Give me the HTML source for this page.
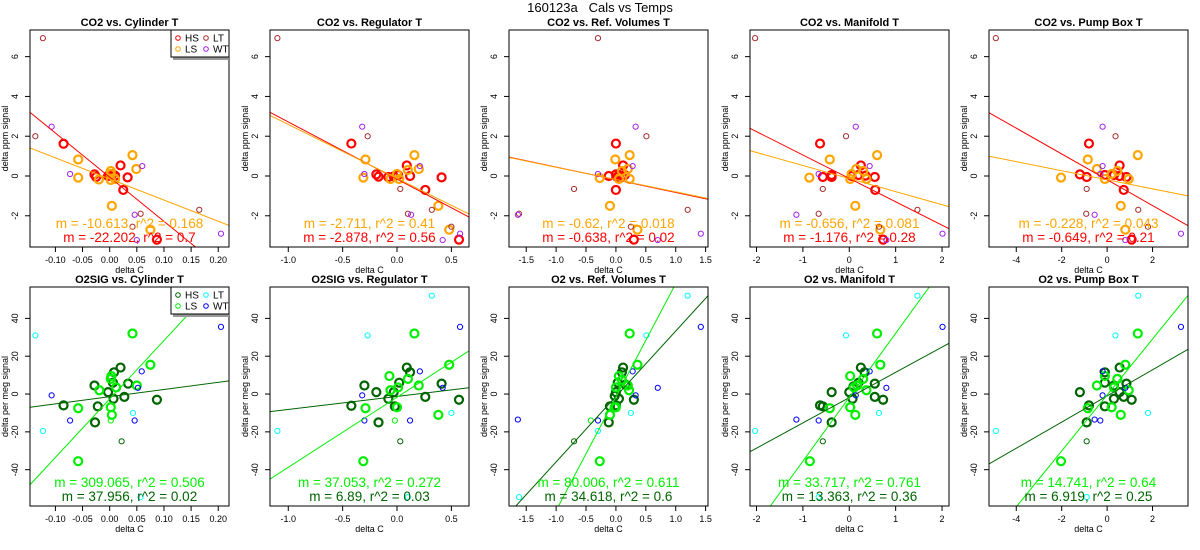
<!DOCTYPE html>
<html><head><meta charset="utf-8"><style>
html,body{margin:0;padding:0;background:#fff;width:1200px;height:550px;overflow:hidden}
svg{display:block;font-family:"Liberation Sans",sans-serif;overflow:hidden}
</style></head><body>
<svg id="chart" width="1200" height="550" viewBox="0 0 1200 550" xmlns="http://www.w3.org/2000/svg">
<text x="600" y="12" text-anchor="middle" font-size="13" style="white-space:pre" xml:space="preserve">160123a   Cals vs Temps</text>
</svg>
<script>
// ---------- data ----------
const topTitles = ["CO2 vs. Cylinder T","CO2 vs. Regulator T","CO2 vs. Ref. Volumes T","CO2 vs. Manifold T","CO2 vs. Pump Box T"];
const botTitles = ["O2SIG vs. Cylinder T","O2SIG vs. Regulator T","O2 vs. Ref. Volumes T","O2 vs. Manifold T","O2 vs. Pump Box T"];
const xLims = [[-0.1468,0.2198],[-1.168,0.662],[-1.788,1.54],[-2.14,2.15],[-5.2,3.56]];
const xTicks = [[-0.10,-0.05,0.00,0.05,0.10,0.15,0.20],[-1.0,-0.5,0.0,0.5],[-1.5,-1.0,-0.5,0.0,0.5,1.0,1.5],[-2,-1,0,1,2],[-4,-2,0,2]];
const xTickLabels = [["-0.10","-0.05","0.00","0.05","0.10","0.15","0.20"],["-1.0","-0.5","0.0","0.5"],["-1.5","-1.0","-0.5","0.0","0.5","1.0","1.5"],["-2","-1","0","1","2"],["-4","-2","0","2"]];
const topYLim = [-3.57,7.34];
const topYTicks = [-2,0,2,4,6];
const botYLim = [-59.2,56.6];
const botYTicks = [-40,-20,0,20,40];

const co2HS = [
 [[-0.085,1.62],[-0.028,0.08],[-0.025,-0.05],[0,0.05],[0.005,0.1],[0.01,0.02],[0.02,0.53],[0.033,-0.07],[0.025,-0.7],[0.087,-3.2],[-0.003,0]],
 [[-0.42,1.63],[-0.19,0.08],[-0.17,-0.03],[-0.08,-0.05],[0.01,0.05],[0.09,0.53],[0.12,0],[0.26,-0.7],[0.41,-0.07],[0.57,-3.2],[-0.03,-0.02]],
 [[0,1.63],[0,-0.7],[0.12,0.53],[-0.12,0],[0.05,0.05],[0.1,0],[0.15,0.05],[0.3,-3.2],[0,0.08],[0.02,-0.05]],
 [[-0.63,1.63],[-0.57,-0.05],[-0.38,0.05],[-0.38,-0.05],[0.25,0.53],[0.2,0.05],[0.35,0.02],[0.55,-0.05],[0.56,-0.7],[0.73,-3.2],[0.05,0]],
 [[-0.8,1.63],[-1.2,0.08],[-0.9,-0.05],[-0.1,0.05],[0.55,0.53],[0.55,0],[0.85,-0.05],[0.73,-0.7],[1.08,-3.2],[0.3,0.05]]];
const co2LS = [
 [[-0.058,0.83],[-0.058,-0.08],[-0.02,-0.18],[0.002,0.25],[0.002,-0.2],[0.01,-0.15],[0.004,-1.5],[0.042,1.05],[0.049,0.35],[0.075,-2.7],[0.002,0.1]],
 [[-0.29,0.83],[-0.31,-0.08],[-0.06,-0.15],[0,0.1],[0.02,-0.15],[0.1,0.3],[0.16,1.05],[0.2,0.35],[0.38,-1.5],[0.48,-2.7]],
 [[-0.01,0.83],[0.23,1.05],[0.2,0.35],[-0.1,-1.5],[0.36,-2.7],[-0.27,-0.1],[0.05,-0.15],[0.23,-0.15],[0.1,0.25]],
 [[-0.42,0.83],[-0.86,-0.08],[0.6,1.05],[0.15,0.35],[0.3,0.25],[0.13,-1.5],[0.67,-2.7],[0.02,-0.15],[0.37,-0.15],[0.05,0.1]],
 [[-0.85,0.83],[-2.03,-0.08],[1.35,1.05],[-0.45,0.35],[0.45,0.25],[0.6,-1.5],[0.8,-2.7],[-0.1,-0.15],[0.95,-0.15],[0.2,0.1]]];
const co2LT = [
 [[-0.123,6.93],[-0.137,2],[0.057,-1.9],[0.165,-1.7],[0.042,-2.55]],
 [[-1.1,6.93],[-0.27,2],[0.32,-1.7],[0.5,-2.55],[0.03,-0.65],[0.1,-1.9]],
 [[-0.3,6.93],[0.51,2],[-0.7,-0.65],[1.2,-1.7],[-1.62,-1.9],[0.25,-2.55]],
 [[-2.03,6.93],[-0.07,2],[-0.57,-0.65],[1.47,-1.7],[-0.66,-1.9],[0.64,-2.55]],
 [[-4.9,6.93],[0.37,2],[-0.9,-0.65],[1.37,-1.7],[-0.92,-1.9],[1.8,-2.55]]];
const co2WT = [
 [[-0.107,2.48],[-0.073,0.1],[0.06,0.5],[0.046,-1.95],[0.205,-2.9],[0.05,-3.22]],
 [[-0.32,2.48],[-0.3,0.1],[0.21,0.5],[0.13,-1.95],[0.42,-3.22],[0.58,-2.9]],
 [[0.33,2.48],[-0.3,0.1],[0.28,0.5],[-1.64,-1.95],[1.42,-2.9],[0.7,-3.22]],
 [[0.14,2.48],[-0.66,0.1],[0.44,0.5],[-1.14,-1.95],[2.01,-2.9],[0.8,-3.22]],
 [[-0.2,2.48],[-0.3,0.1],[-0.2,0.5],[-0.55,-1.95],[3.25,-2.9],[0.8,-3.22]]];

const o2HS = [
 [[-0.085,-6],[-0.028,4.5],[-0.022,-6.5],[-0.027,-15],[-0.003,1],[0.006,6],[0.008,11.5],[0.007,-2.5],[0.02,14],[0.034,5.5],[0.027,-1.5],[0.087,-3]],
 [[-0.42,-6.2],[-0.3,4.5],[-0.19,1],[-0.17,-15],[-0.08,-2.5],[-0.03,1],[-0.02,-6.5],[0.02,6],[0.09,14],[0.12,11.5],[0.26,-1.5],[0.41,5.5],[0.57,-3]],
 [[-0.12,-15],[-0.1,-6.5],[0,1],[0,-6],[0.03,6],[0.1,11.5],[0.12,14],[0.05,-2.5],[0.16,5],[0.3,-3],[-0.02,-1]],
 [[-0.63,-6],[-0.57,-6.5],[-0.38,1],[-0.38,-15],[0,1],[0.07,-2.5],[0.09,4],[0.2,6],[0.25,14],[0.33,11.5],[0.55,5.5],[0.55,-1.5],[0.73,-3]],
 [[-1.2,1],[-0.9,-15],[-0.8,-6],[-0.1,6],[-0.1,11.5],[-0.1,-6.5],[0.3,-2.5],[0.3,4.5],[0.55,14],[0.55,1],[0.73,-1.5],[0.85,5.5],[1.08,-3]]];
const o2LS = [
 [[-0.058,-7.5],[-0.058,-35.5],[-0.019,2],[0.002,8],[0.003,9.5],[0.002,-7],[0.004,-11],[0.012,3.5],[0.042,32],[0.05,4.5],[0.075,15.5]],
 [[-0.31,-35.5],[-0.29,-7.5],[-0.07,9.5],[-0.06,2],[0,-7],[0.01,3.5],[0.1,8],[0.16,32],[0.2,4.5],[0.38,-11],[0.48,15.5]],
 [[-0.27,-35.5],[-0.1,-11],[0.23,32],[0.36,15.5],[0.05,9.5],[0.1,7.5],[0,3.5],[-0.02,-7],[0.22,2],[0.2,4.5],[0,-7]],
 [[-0.85,-35.5],[-0.42,-7.5],[0.02,9.5],[0.02,-7],[0.13,-11],[0.1,3.5],[0.17,4.5],[0.3,8],[0.37,2],[0.6,32],[0.67,15.5]],
 [[-2.03,-35.5],[-0.85,-7.5],[-0.45,4.5],[-0.1,9.5],[0.2,-7],[0.3,3.5],[0.45,8],[0.6,-11],[0.8,15.5],[0.95,2],[1.35,32]]];
const o2LT = [
 [[-0.137,31],[-0.123,-19.5],[0.043,-10],[0.057,-54.5]],
 [[-1.1,-19.5],[-0.27,31],[0.32,52],[0.5,-10],[0.1,-54.5]],
 [[-1.62,-54.5],[1.2,52],[0.51,31],[0.25,-10],[-0.3,-19.5]],
 [[-2.03,-19.5],[-0.07,31],[1.47,52],[0.64,-10],[-0.66,-54.5]],
 [[-4.9,-19.5],[0.37,31],[1.37,52],[1.8,-10],[-0.9,-54.5]]];
const o2WT = [
 [[-0.107,-0.7],[-0.073,-14],[0.059,12],[0.046,-14],[0.052,3.3],[0.205,35.5]],
 [[-0.32,-0.7],[-0.3,-14],[0.12,-14],[0.21,12],[0.42,3.3],[0.58,35.5]],
 [[-1.64,-13.5],[1.42,35.5],[0.7,3.3],[0.33,-0.7],[0.28,12],[-0.3,-14]],
 [[-1.14,-13.5],[-0.66,-14],[0.14,-0.7],[0.44,12],[0.8,3.3],[2.01,35.5]],
 [[-0.2,12],[-0.2,-0.7],[-0.55,-13.5],[-0.3,-14],[0.8,3.3],[3.25,35.5]]];
const o2SmallHS = [[0.022,-25],[0.03,-25],[-0.7,-25],[-0.57,-25],[-0.9,-25]];
const o2SmallLS = [[0.002,-14],[-0.02,-14],[-0.42,-14],null,null];

const co2HSSlope = [-22.202,-2.878,-0.638,-1.176,-0.649];
const co2HSInt = [-0.06,-0.16,-0.19,-0.12,-0.19];
const co2LSSlope = [-10.613,-2.711,-0.62,-0.656,-0.228];
const co2LSInt = [-0.15,-0.12,-0.18,-0.13,-0.19];
const o2LSSlope = [309.065,37.053,60.0,33.8,14.8];
const o2LSInt = [-2.6,-1.7,-1.6,-1.7,-0.5];
const o2HSSlope = [37.956,6.89,34.6,13.363,6.919];
const o2HSInt = [-1.4,-1.25,-1.3,-1.9,-1.0];

const co2LSText = ["m = -10.613, r^2 = 0.168","m = -2.711, r^2 = 0.41","m = -0.62, r^2 = 0.018","m = -0.656, r^2 = 0.081","m = -0.228, r^2 = 0.043"];
const co2HSText = ["m = -22.202, r^2 = 0.7","m = -2.878, r^2 = 0.56","m = -0.638, r^2 = 0.02","m = -1.176, r^2 = 0.28","m = -0.649, r^2 = 0.21"];
const o2LSText = ["m = 309.065, r^2 = 0.506","m = 37.053, r^2 = 0.272","m = 80.006, r^2 = 0.611","m = 33.717, r^2 = 0.761","m = 14.741, r^2 = 0.64"];
const o2HSText = ["m = 37.956, r^2 = 0.02","m = 6.89, r^2 = 0.03","m = 34.618, r^2 = 0.6","m = 13.363, r^2 = 0.36","m = 6.919, r^2 = 0.25"];

// ---------- drawing ----------
const NS = "http://www.w3.org/2000/svg";
const svg = document.getElementById("chart");
const panelLeft = [30,270,509,750,989];
const PW = 199;
const rows = [{top:30,bot:247},{top:287,bot:506}];

function mk(tag, parent, attrs){
  const e = document.createElementNS(NS, tag);
  for (const k in attrs) e.setAttribute(k, attrs[k]);
  parent.appendChild(e);
  return e;
}

function drawPanel(p, r){
  const L = panelLeft[p], R = L + PW, T = rows[r].top, B = rows[r].bot;
  const yl = r === 0 ? topYLim : botYLim;
  const xs = v => L + (v - xLims[p][0]) / (xLims[p][1] - xLims[p][0]) * PW;
  const ys = v => B - (v - yl[0]) / (yl[1] - yl[0]) * (B - T);
  const g = mk("g", svg, {});
  
  
  const cid = "clip" + r + "_" + p;
  const cp = mk("clipPath", g, {id: cid});
  mk("rect", cp, {x:L, y:T, width:PW, height:B-T});

  const t = mk("text", g, {x:L+PW/2, y:T-4, "text-anchor":"middle", "font-size":"11", "font-weight":"bold"});
  t.textContent = r === 0 ? topTitles[p] : botTitles[p];
  
  

  const xa = mk("g", g, {});
  
  
  xTicks[p].forEach((v,i) => {
    const x = xs(v);
    mk("line", xa, {x1:x, x2:x, y1:B, y2:B+5, stroke:"#000"});
    const tl = mk("text", xa, {x:x, y:B+16, "text-anchor":"middle", "font-size":"9"});
    tl.textContent = xTickLabels[p][i];
  });
  mk("line", xa, {x1:xs(xTicks[p][0]), x2:xs(xTicks[p][xTicks[p].length-1]), y1:B, y2:B, stroke:"#000"});
  const xt = mk("text", g, {x:L+PW/2, y:B+26, "text-anchor":"middle", "font-size":"9"});
  xt.textContent = "delta C";
  
  

  const ya = mk("g", g, {});
  
  
  const yt = r === 0 ? topYTicks : botYTicks;
  yt.forEach(v => {
    const y = ys(v);
    mk("line", ya, {x1:L-5, x2:L, y1:y, y2:y, stroke:"#000"});
    const tl = mk("text", ya, {x:L-12, y:y, "text-anchor":"middle", "font-size":"9", transform:`rotate(-90 ${L-12} ${y})`});
    tl.textContent = String(v);
  });
  const ytt = mk("text", g, {x:L-22, y:(T+B)/2, "text-anchor":"middle", "font-size":"9", transform:`rotate(-90 ${L-22} ${(T+B)/2})`});
  ytt.textContent = r === 0 ? "delta ppm signal" : "delta per meg signal";
  
  

  const cols = r === 0 ? ["#ff0000","#ffa500","#a52a2a","#a020f0"] : ["#006400","#00ee00","#00ffff","#0000ff"];
  const sets = r === 0 ? [co2HS[p],co2LS[p],co2LT[p],co2WT[p]] : [o2HS[p],o2LS[p],o2LT[p],o2WT[p]];
  const names = ["hs","ls","lt","wt"];
  const pg = mk("g", g, {"clip-path":`url(#${cid})`});
  sets.forEach((s,si) => {
    const thick = si < 2;
    s.forEach(pt => {
      const c = mk("circle", pg, {cx:xs(pt[0]), cy:ys(pt[1]), r: thick?4:2.6, fill:"none", stroke:cols[si], "stroke-width": thick?2.2:1});
      
      
    });
  });
  if (r === 1){
    const a = o2SmallHS[p], b = o2SmallLS[p];
    if (a){ const c = mk("circle", pg, {cx:xs(a[0]), cy:ys(a[1]), r:2.6, fill:"none", stroke:cols[0], "stroke-width":1});
      
       }
    if (b){ const c = mk("circle", pg, {cx:xs(b[0]), cy:ys(b[1]), r:2.6, fill:"none", stroke:cols[1], "stroke-width":1});
      
       }
  }

  const fits = r === 0 ? [[co2HSSlope[p],co2HSInt[p],cols[0],'fit-line-hs'],[co2LSSlope[p],co2LSInt[p],cols[1],'fit-line-ls']]
                       : [[o2HSSlope[p],o2HSInt[p],cols[0],'fit-line-hs'],[o2LSSlope[p],o2LSInt[p],cols[1],'fit-line-ls']];
  fits.forEach(f => {
    let x0 = xLims[p][0], x1 = xLims[p][1];
    const m = f[0], b = f[1];
    // clip the line analytically to the y range
    const xa1 = (yl[0]-b)/m, xa2 = (yl[1]-b)/m;
    const lo = Math.min(xa1, xa2), hi = Math.max(xa1, xa2);
    x0 = Math.max(x0, lo); x1 = Math.min(x1, hi);
    if (x1 <= x0) return;
    const ln = mk("line", pg, {x1:xs(x0), y1:ys(m*x0+b), x2:xs(x1), y2:ys(m*x1+b), stroke:f[2], "stroke-width":1});
    
    
  });

  const s1 = mk("text", g, {x:L+PW/2, y:B-19, "text-anchor":"middle", "font-size":"13.5", fill:cols[1]});
  s1.textContent = r === 0 ? co2LSText[p] : o2LSText[p];
  
  
  const s2 = mk("text", g, {x:L+PW/2, y:B-5, "text-anchor":"middle", "font-size":"13.5", fill:cols[0]});
  s2.textContent = r === 0 ? co2HSText[p] : o2HSText[p];
  
  

  mk("rect", g, {x:L, y:T, width:PW, height:B-T, fill:"none", stroke:"#000", "stroke-width":1});

  if (p === 0){
    const lg = mk("g", g, {});
    
    
    mk("rect", lg, {x:173, y:T+2, width:56, height:28, fill:"#999"});
    mk("rect", lg, {x:171, y:T, width:58, height:27, fill:"#fff", stroke:"#000"});
    const lab = ["HS","LT","LS","WT"], ci = [0,2,1,3];
    for (let i=0;i<4;i++){
      const cx = i%2===0 ? 178 : 206, cy = T + (i<2 ? 8 : 19);
      const e = mk("g", lg, {});
      
      
      mk("circle", e, {cx:cx, cy:cy, r:2.3, fill:"none", stroke:cols[ci[i]], "stroke-width":1});
      const tx = mk("text", e, {x:cx+7, y:cy+3.5, "font-size":"10"});
      tx.textContent = lab[i];
    }
  }
}
for (let r=0;r<2;r++) for (let p=0;p<5;p++) drawPanel(p,r);
</script>
</body></html>
